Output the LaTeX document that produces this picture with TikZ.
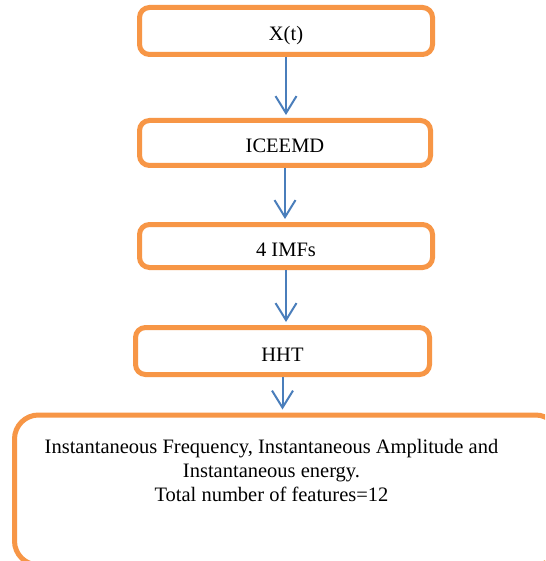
\documentclass[tikz,border=0pt]{standalone}
\usepackage{fontspec}
\setmainfont{Liberation Serif}
\usetikzlibrary{arrows.meta}
\definecolor{boxorange}{HTML}{F79646}
\definecolor{arrowblue}{HTML}{4A7EBB}
\begin{document}
\begin{tikzpicture}[x=1pt,y=-1pt,
  stepbox/.style={draw=boxorange, line width=5pt, rounded corners=10pt, fill=white,
    inner sep=0pt, text height=20pt, text depth=0pt, font=\fontsize{20.5}{24}\selectfont},
  flowarrow/.style={draw=arrowblue, line width=2pt, -{Straight Barb[length=17pt,width=21pt,line width=2pt]}, shorten >=3pt}]
\clip (0,0) rectangle (545,561);
\fill[white] (0,0) rectangle (545,561);
\node[stepbox, minimum width=293pt, minimum height=47pt] (xt) at (286,31) {X(t)};
\node[stepbox, minimum width=291pt, minimum height=45pt] (ice) at (285,143) {ICEEMD};
\node[stepbox, minimum width=293pt, minimum height=43pt] (imf) at (286,246) {4 IMFs};
\node[stepbox, minimum width=294pt, minimum height=47pt] (hht) at (282.5,351) {HHT};
\node[stepbox, rounded corners=24pt, minimum width=545pt, minimum height=150pt] (feat) at (287,490) {};
\node[font=\fontsize{20.5}{24}\selectfont, align=center, inner sep=0pt] (ftxt) at (271.5,470) {Instantaneous Frequency, Instantaneous Amplitude and\\Instantaneous energy.\\Total number of features=12};
\draw[flowarrow] (xt.south) -- (xt.south |- ice.north);
\draw[flowarrow] (ice.south) -- (ice.south |- imf.north);
\draw[flowarrow] (imf.south) -- (imf.south |- hht.north);
\draw[flowarrow] (hht.south) -- (hht.south |- feat.north);
\end{tikzpicture}
\end{document}
